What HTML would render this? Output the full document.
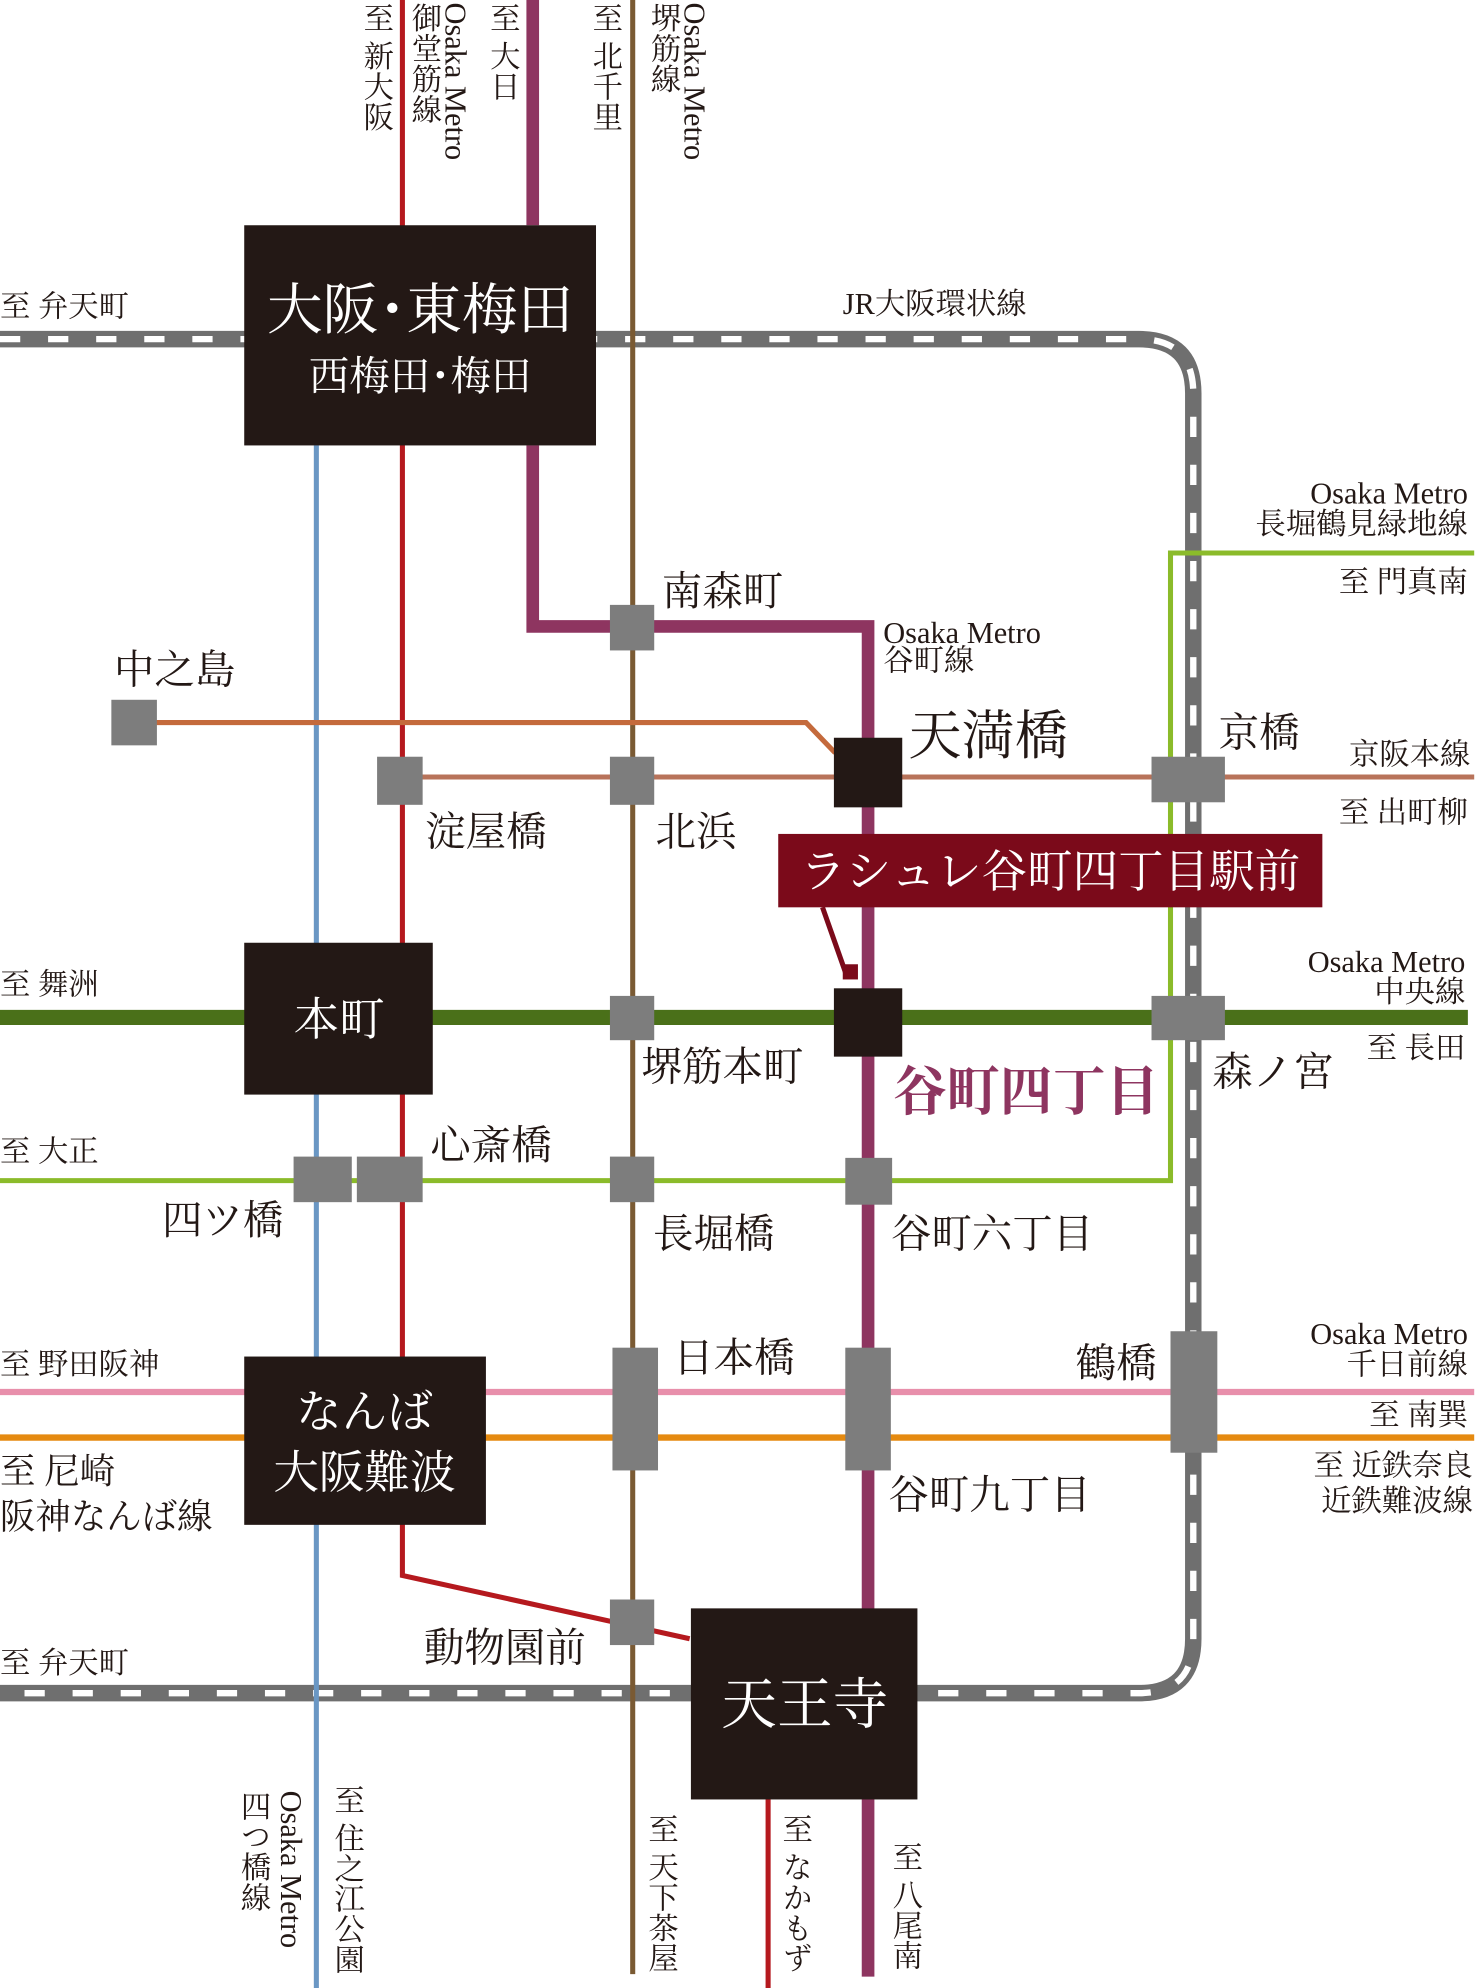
<!DOCTYPE html>
<html><head><meta charset="utf-8"><style>
html,body{margin:0;padding:0;background:#fff;}
svg{display:block;}
text{font-family:"Liberation Serif","Noto Serif CJK SC",serif;fill:#231815;}
.v{writing-mode:vertical-rl;}
</style></head><body>
<svg width="1478" height="1988" viewBox="0 0 1168 1571" preserveAspectRatio="none" xmlns="http://www.w3.org/2000/svg">
<rect width="1168" height="1571" fill="#fff"/>
<path d="M0 268 H900 Q943 268 943 311 V1295 Q943 1338 900 1338 H0" fill="none" stroke="#6f6f6f" stroke-width="13"/>
<path d="M0 268 H900 Q943 268 943 311 V1295 Q943 1338 900 1338 H0" fill="none" stroke="#fff" stroke-width="5" stroke-dasharray="16 22"/>
<line x1="250" y1="352" x2="250" y2="1571" stroke="#6a97c4" stroke-width="4"/>
<line x1="500" y1="0" x2="500" y2="1560" stroke="#7a5a33" stroke-width="4"/>
<path d="M318 0 V1245 L545 1295" fill="none" stroke="#b5191e" stroke-width="4"/>
<line x1="607" y1="1420" x2="607" y2="1571" stroke="#b5191e" stroke-width="4"/>
<path d="M421 0 V178 M421 352 V495 H686 V1562" fill="none" stroke="#8e3560" stroke-width="10"/>
<path d="M105 571 H637 L660 595" fill="none" stroke="#c46a3c" stroke-width="4"/>
<line x1="318" y1="614" x2="1165" y2="614" stroke="#b8735a" stroke-width="4"/>
<line x1="0" y1="804" x2="1160" y2="804" stroke="#4a7019" stroke-width="12"/>
<path d="M0 933 H925 V437 H1165" fill="none" stroke="#8bbb2a" stroke-width="4"/>
<line x1="0" y1="1100" x2="1165" y2="1100" stroke="#e88fab" stroke-width="5"/>
<line x1="0" y1="1136" x2="1165" y2="1136" stroke="#e58a10" stroke-width="5"/>
<g fill="#7d7d7d">
<rect x="482" y="478" width="35" height="36"/>
<rect x="88" y="553" width="36" height="36"/>
<rect x="298" y="598" width="36" height="38"/>
<rect x="482" y="598" width="35" height="38"/>
<rect x="910" y="598" width="58" height="36"/>
<rect x="482" y="787" width="35" height="35"/>
<rect x="910" y="787" width="58" height="35"/>
<rect x="232" y="914" width="46" height="36"/>
<rect x="282" y="914" width="52" height="36"/>
<rect x="482" y="914" width="35" height="36"/>
<rect x="668" y="915" width="37" height="37"/>
<rect x="484" y="1065" width="36" height="97"/>
<rect x="668" y="1065" width="36" height="97"/>
<rect x="925" y="1052" width="37" height="96"/>
<rect x="482" y="1264" width="35" height="36"/>
</g>
<g fill="#231815">
<rect x="193" y="178" width="278" height="174"/>
<rect x="659" y="583" width="54" height="55"/>
<rect x="193" y="745" width="149" height="120"/>
<rect x="659" y="781" width="54" height="54"/>
<rect x="193" y="1072" width="191" height="133"/>
<rect x="546" y="1271" width="179" height="151"/>
</g>
<rect x="615" y="659" width="430" height="58" fill="#7b0a1a"/>
<path d="M650 717 L668 768" stroke="#7b0a1a" stroke-width="4"/>
<rect x="666" y="762" width="12" height="12" fill="#7b0a1a"/>
<text x="830" y="701" font-size="36" text-anchor="middle" style="fill:#fff">ラシュレ谷町四丁目駅前</text>
<text x="332" y="260" font-size="44" text-anchor="middle" style="fill:#fff">大阪･東梅田</text>
<text x="332" y="308" font-size="32" text-anchor="middle" style="fill:#fff">西梅田･梅田</text>
<text x="268" y="818" font-size="36" text-anchor="middle" style="fill:#fff">本町</text>
<text x="288" y="1128" font-size="36" text-anchor="middle" style="fill:#fff">なんば</text>
<text x="288" y="1176" font-size="36" text-anchor="middle" style="fill:#fff">大阪難波</text>
<text x="636" y="1362" font-size="44" text-anchor="middle" style="fill:#fff">天王寺</text>
<g font-size="32">
<text x="523" y="478">南森町</text>
<text x="90" y="540">中之島</text>
<text x="718" y="596" font-size="42">天満橋</text>
<text x="336" y="668">淀屋橋</text>
<text x="518" y="668">北浜</text>
<text x="963" y="590">京橋</text>
<text x="507" y="854">堺筋本町</text>
<text x="706" y="877" font-size="42" style="fill:#8e3560" font-weight="bold">谷町四丁目</text>
<text x="958" y="858">森ノ宮</text>
<text x="340" y="916">心斎橋</text>
<text x="128" y="975">四ツ橋</text>
<text x="516" y="986">長堀橋</text>
<text x="704" y="986">谷町六丁目</text>
<text x="532" y="1084">日本橋</text>
<text x="850" y="1088">鶴橋</text>
<text x="702" y="1192">谷町九丁目</text>
<text x="335" y="1313">動物園前</text>
</g>
<g font-size="24">
<text x="0" y="250">至 弁天町</text>
<text x="666" y="248">JR大阪環状線</text>
<text x="1160" y="398" text-anchor="end">Osaka Metro</text>
<text x="1160" y="422" text-anchor="end">長堀鶴見緑地線</text>
<text x="1160" y="468" text-anchor="end">至 門真南</text>
<text x="698" y="508">Osaka Metro</text>
<text x="698" y="530">谷町線</text>
<text x="1162" y="604" text-anchor="end">京阪本線</text>
<text x="1160" y="650" text-anchor="end">至 出町柳</text>
<text x="0" y="786">至 舞洲</text>
<text x="1158" y="768" text-anchor="end">Osaka Metro</text>
<text x="1158" y="792" text-anchor="end">中央線</text>
<text x="1158" y="836" text-anchor="end">至 長田</text>
<text x="0" y="918">至 大正</text>
<text x="0" y="1086">至 野田阪神</text>
<text x="1160" y="1062" text-anchor="end">Osaka Metro</text>
<text x="1160" y="1086" text-anchor="end">千日前線</text>
<text x="1160" y="1126" text-anchor="end">至 南巽</text>
<text x="1164" y="1166" text-anchor="end">至 近鉄奈良</text>
<text x="1164" y="1194" text-anchor="end">近鉄難波線</text>
<text x="0" y="1172" font-size="28">至 尼崎</text>
<text x="0" y="1208" font-size="28">阪神なんば線</text>
<text x="0" y="1322">至 弁天町</text>
</g>
<g font-size="24">
<text class="v" x="297" y="2">至 新大阪</text>
<text class="v" x="360" y="2">Osaka Metro</text>
<text class="v" x="335" y="2">御堂筋線</text>
<text class="v" x="397" y="2">至 大日</text>
<text class="v" x="478" y="2">至 北千里</text>
<text class="v" x="549" y="2">Osaka Metro</text>
<text class="v" x="524" y="2">堺筋線</text>
<text class="v" x="230" y="1415">Osaka Metro</text>
<text class="v" x="200" y="1415">四つ橋線</text>
<text class="v" x="274" y="1410">至 住之江公園</text>
<text class="v" x="522" y="1433">至 天下茶屋</text>
<text class="v" x="628" y="1433">至 なかもず</text>
<text class="v" x="715" y="1455">至 八尾南</text>
</g>
</svg>
</body></html>
